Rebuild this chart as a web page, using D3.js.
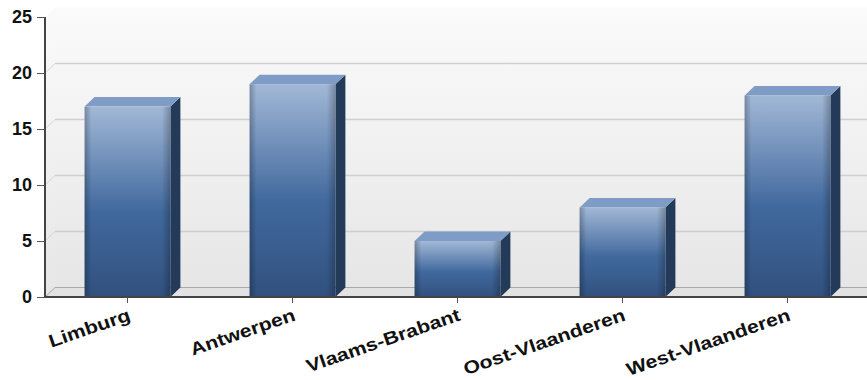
<!DOCTYPE html>
<html><head><meta charset="utf-8">
<script src="https://cdn.jsdelivr.net/npm/d3@7/dist/d3.min.js"></script>
<style>body{margin:0;background:#fff;}svg{display:block;}</style>
</head><body>
<svg id="c" width="867" height="380"></svg>
<script>
const categories = ["Limburg","Antwerpen","Vlaams-Brabant","Oost-Vlaanderen","West-Vlaanderen"];
const values = [17, 19, 5, 8, 18];
const yTicks = [0, 5, 10, 15, 20, 25];

const W = 867, H = 380;
const mLeft = 45, mRight = 870, mTop = 17, mBottom = 297;
const dx = 10, dy = 9.5;

const svg = d3.select("#c");
const defs = svg.append("defs");

const wallG = defs.append("linearGradient").attr("id","wall").attr("x1",0).attr("y1",0).attr("x2",0).attr("y2",1);
wallG.append("stop").attr("offset","0%").attr("stop-color","#fbfbfb");
wallG.append("stop").attr("offset","100%").attr("stop-color","#e6e6e6");

const frontG = defs.append("linearGradient").attr("id","front").attr("x1",0).attr("y1",0).attr("x2",0).attr("y2",1);
frontG.append("stop").attr("offset","0%").attr("stop-color","#a2b8d6");
frontG.append("stop").attr("offset","55%").attr("stop-color","#41699e");
frontG.append("stop").attr("offset","100%").attr("stop-color","#31517e");

const edgeG = defs.append("linearGradient").attr("id","edge").attr("x1",0).attr("y1",0).attr("x2",1).attr("y2",0);
edgeG.append("stop").attr("offset","0%").attr("stop-color","#000").attr("stop-opacity",0.25);
edgeG.append("stop").attr("offset","8%").attr("stop-color","#000").attr("stop-opacity",0.0);
edgeG.append("stop").attr("offset","90%").attr("stop-color","#000").attr("stop-opacity",0.0);
edgeG.append("stop").attr("offset","100%").attr("stop-color","#000").attr("stop-opacity",0.25);

const y = d3.scaleLinear().domain([0, 25]).range([mBottom, mTop]);
const x = d3.scaleBand().domain(categories).range([mLeft, mRight]).paddingInner(0.48).paddingOuter(0.24);

// back wall
svg.append("rect").attr("x", mLeft+dx).attr("y", y(25)-dy).attr("width", W-(mLeft+dx)).attr("height", (y(0)-dy)-(y(25)-dy)).attr("fill","url(#wall)");
// left wall
svg.append("polygon").attr("points", [[mLeft,y(25)],[mLeft+dx,y(25)-dy],[mLeft+dx,y(0)-dy],[mLeft,y(0)]].join(" ")).attr("fill","url(#wall)");

// gridlines
const grid = svg.append("g");
yTicks.filter(t => t > 0 && t < 25).forEach(t => {
  grid.append("line").attr("x1", mLeft+dx).attr("x2", W).attr("y1", y(t)-dy).attr("y2", y(t)-dy).attr("stroke","#cfcfcf").attr("stroke-width",1.5);
  grid.append("line").attr("x1", mLeft).attr("x2", mLeft+dx).attr("y1", y(t)).attr("y2", y(t)-dy).attr("stroke","#d6d6d6").attr("stroke-width",1);
});

// floor
svg.append("polygon").attr("points", [[mLeft,y(0)],[mLeft+dx,y(0)-dy],[W+dx,y(0)-dy],[W+dx,y(0)]].join(" ")).attr("fill","#e2e2e2");
svg.append("line").attr("x1", mLeft+dx).attr("x2", W).attr("y1", y(0)-dy).attr("y2", y(0)-dy).attr("stroke","#a8a8a8").attr("stroke-width",1);
svg.append("line").attr("x1", mLeft).attr("x2", mLeft+dx).attr("y1", y(0)).attr("y2", y(0)-dy).attr("stroke","#a8a8a8").attr("stroke-width",1);

// bars
const bars = svg.append("g").selectAll("g").data(categories.map((c,i)=>({c, v: values[i]}))).join("g");
bars.each(function(d){
  const g = d3.select(this);
  const x0 = x(d.c), x1 = x(d.c) + x.bandwidth(), yt = y(d.v), yb = y(0);
  g.append("polygon").attr("points", [[x1,yt],[x1+dx,yt-dy],[x1+dx,yb-dy],[x1,yb]].join(" ")).attr("fill","#233a59");
  g.append("polygon").attr("points", [[x0,yt],[x1,yt],[x1+dx,yt-dy],[x0+dx,yt-dy]].join(" ")).attr("fill","#7e9cc5");
  g.append("rect").attr("x",x0).attr("y",yt).attr("width",x1-x0).attr("height",yb-yt).attr("fill","url(#front)");
  g.append("rect").attr("x",x0).attr("y",yt).attr("width",x1-x0).attr("height",yb-yt).attr("fill","url(#edge)");
});

// y axis
const yAxis = svg.append("g").attr("transform",`translate(${mLeft},0)`)
  .call(d3.axisLeft(y).tickValues(yTicks).tickSize(8).tickPadding(5).tickFormat(d3.format("d")));
yAxis.select(".domain").attr("d", `M0,${y(25)}V${y(0)}`).attr("stroke","#444").attr("stroke-width",2);
yAxis.selectAll(".tick line").attr("stroke","#555");
yAxis.selectAll("text").attr("font-family","Liberation Sans, Arial, sans-serif").attr("font-weight","bold").attr("font-size","18px").attr("fill","#111");

// x axis
const xAxis = svg.append("g").attr("transform",`translate(0,${mBottom})`)
  .call(d3.axisBottom(x).tickSize(6).tickSizeOuter(0));
xAxis.select(".domain").attr("d", `M${mLeft},0H${W}`).attr("stroke","#444").attr("stroke-width",2);
xAxis.selectAll(".tick line").attr("stroke","#555");
xAxis.selectAll("text")
  .attr("font-family","Liberation Sans, Arial, sans-serif").attr("font-weight","bold").attr("font-size","18px")
  .attr("fill","#111")
  .attr("text-anchor","end").attr("y",0).attr("dy",0)
  .attr("transform","translate(4,23) rotate(-19) scale(1.18,1)");
</script>
</body></html>
